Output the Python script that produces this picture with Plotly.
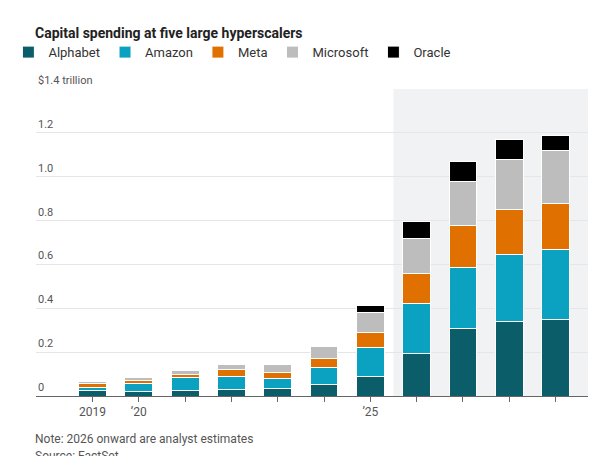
import plotly.graph_objects as go

years = list(range(2019, 2030))
alphabet = [0.024, 0.022, 0.025, 0.031, 0.032, 0.052, 0.090, 0.196, 0.306, 0.342, 0.350]
amazon = [0.017, 0.035, 0.058, 0.060, 0.050, 0.080, 0.130, 0.224, 0.278, 0.302, 0.320]
meta = [0.015, 0.013, 0.017, 0.030, 0.026, 0.037, 0.070, 0.140, 0.192, 0.206, 0.207]
microsoft = [0.012, 0.014, 0.018, 0.022, 0.035, 0.055, 0.090, 0.157, 0.204, 0.230, 0.243]
oracle = [0.002, 0.002, 0.002, 0.002, 0.004, 0.008, 0.035, 0.078, 0.088, 0.090, 0.070]
series = [("Alphabet", alphabet, "#0b5e69"), ("Amazon", amazon, "#0aa2c0"),
          ("Meta", meta, "#e07000"), ("Microsoft", microsoft, "#bdbdbd"),
          ("Oracle", oracle, "#000000")]
ytick_vals = [0, 0.2, 0.4, 0.6, 0.8, 1.0, 1.2, 1.4]
ytick_text = ["0", "0.2", "0.4", "0.6", "0.8", "1.0", "1.2", "$1.4 trillion"]
xtick_text = ["2019", "’20", "", "", "", "", "’25", "", "", "", ""]

font = "Roboto"
fig = go.Figure()
for name, vals, col in series:
    fig.add_trace(go.Bar(x=years, y=vals, name=name, marker=dict(color=col, line=dict(color="white", width=1)),
                         width=0.6))

ann = []
for v, t in zip(ytick_vals, ytick_text):
    ann.append(dict(x=0, xref="paper", y=v, yref="y", text=t, showarrow=False, xanchor="left", yanchor="bottom",
                    font=dict(size=11, color="#555", family=font)))
ann.append(dict(x=2025.52, y=1.47, xref="x", yref="y", text="Estimates", showarrow=False, xanchor="left",
                yanchor="top", font=dict(size=11, color="#555", family=font)))
ann.append(dict(x=-0.005, xref="paper", y=1.215, yref="paper", text="<b>Capital spending at five large hyperscalers</b>",
                showarrow=False, xanchor="left", font=dict(size=14, color="#222", family=font)))
ann.append(dict(x=-0.005, xref="paper", y=-0.11, yref="paper", text="Note: 2026 onward are analyst estimates",
                showarrow=False, xanchor="left", yanchor="top", font=dict(size=12, color="#555", family=font)))
ann.append(dict(x=-0.005, xref="paper", y=-0.165, yref="paper", text="Source: FactSet",
                showarrow=False, xanchor="left", yanchor="top", font=dict(size=12, color="#555", family=font)))

fig.update_layout(
    width=602, height=456, barmode="stack", bargap=0.4,
    margin=dict(l=28, r=22, t=81, b=68, autoexpand=False),
    plot_bgcolor="white", paper_bgcolor="white",
    font=dict(family=font, size=12, color="#333"),
    legend=dict(orientation="h", x=-0.05, y=1.12, yanchor="middle", xanchor="left",
                font=dict(size=13, color="#333", family=font), itemwidth=30, traceorder="normal"),
    annotations=ann,
    shapes=[dict(type="rect", xref="x", yref="y", x0=2025.5, x1=2029.7, y0=0, y1=1.47,
                 fillcolor="#f1f2f4", line=dict(width=0), layer="below")],
    xaxis=dict(range=[2017.78, 2029.7], tickvals=years, ticktext=xtick_text, ticks="outside",
               ticklen=5, tickcolor="#666", showgrid=False, showline=True, linecolor="#666",
               tickfont=dict(size=12, color="#555")),
    yaxis=dict(range=[0, 1.4], tickvals=ytick_vals, showticklabels=False, showgrid=True,
               gridcolor="#e6e6e6", zeroline=False, fixedrange=True),
)
fig.write_html("out.html")
